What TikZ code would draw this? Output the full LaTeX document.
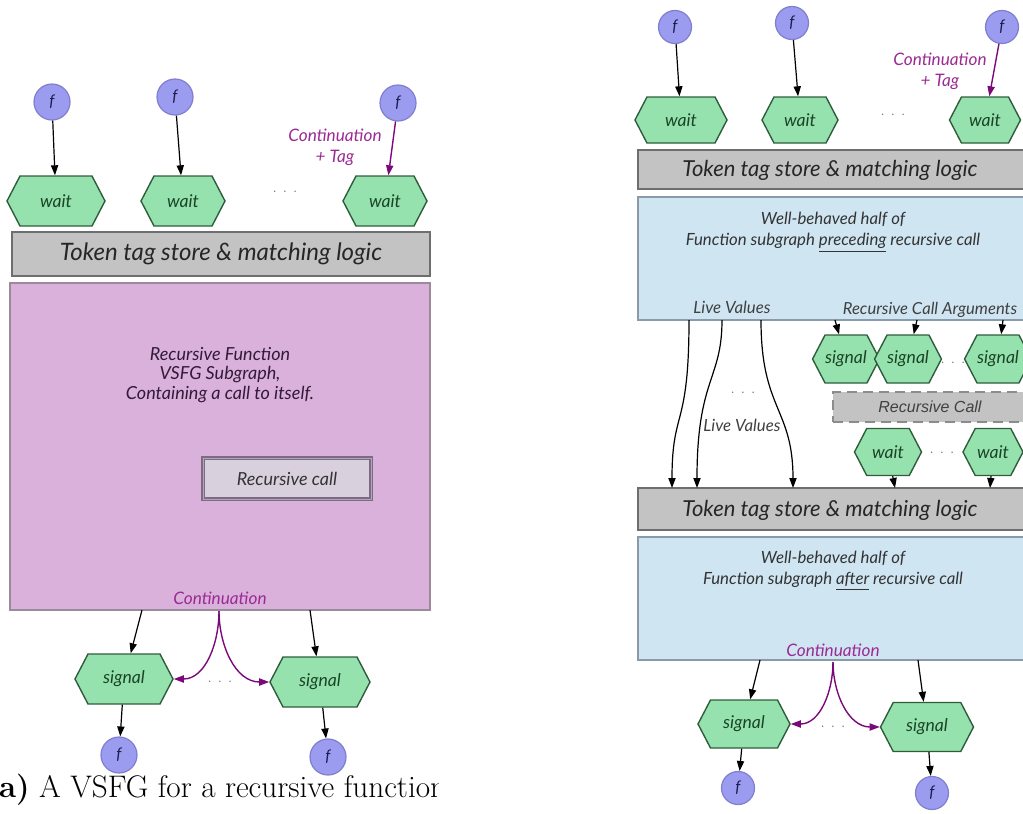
\documentclass[tikz,border=0pt]{standalone}
\usepackage{fontspec}
\newfontfamily\diafont{Lato}
\newfontfamily\arialfont{Liberation Sans}
\usetikzlibrary{arrows.meta,positioning,calc,shapes.symbols}
\definecolor{rvfill}{HTML}{9B9BF0}
\definecolor{rvline}{HTML}{7F7FD0}
\definecolor{rvtext}{HTML}{1C1C50}
\definecolor{hxfill}{HTML}{96E2AE}
\definecolor{hxline}{HTML}{2F5D3C}
\definecolor{hxtext}{HTML}{1A4426}
\definecolor{fnfill}{HTML}{D9B1DA}
\definecolor{fnline}{HTML}{9A8A9A}
\definecolor{fntext}{HTML}{321A38}
\definecolor{tsfill}{HTML}{C3C3C3}
\definecolor{tsline}{HTML}{6E6E6E}
\definecolor{wbfill}{HTML}{CFE5F2}
\definecolor{wbline}{HTML}{8A9AA8}
\definecolor{rcfill}{HTML}{D9D0DD}
\definecolor{rcline}{HTML}{7D6A85}
\definecolor{ctpurple}{HTML}{7A0A7A}
\definecolor{cttext}{HTML}{9B2A94}

\begin{document}
\begin{tikzpicture}[
  x=0.5pt, y=-0.5pt,
  fnode/.style={circle, draw=rvline, fill=rvfill, line width=0.6pt,
                minimum size=18pt, inner sep=0pt,
                font=\diafont\itshape\fontsize{8}{9}\selectfont, text=rvtext},
  hexbox/.style={signal, signal to=east and west, signal pointer angle=125,
                 draw=hxline, fill=hxfill, line width=0.7pt, inner sep=0pt,
                 minimum height=25pt,
                 font=\diafont\itshape\fontsize{8.8}{10}\selectfont, text=hxtext},
  tagbar/.style={draw=tsline, fill=tsfill, line width=0.7pt, inner sep=0pt,
                 font=\diafont\itshape\fontsize{12}{14}\selectfont, text=black!85},
  fnbox/.style={draw=fnline, fill=fnfill, line width=0.6pt},
  wbbox/.style={draw=wbline, fill=wbfill, line width=0.6pt},
  body/.style={align=center, inner sep=0pt, text=fntext,
               font=\diafont\itshape\fontsize{9}{9.75}\selectfont},
  rcall/.style={draw=rcline, double=rcline!60, double distance=0.5pt,
                line width=0.8pt, fill=rcfill, inner sep=0pt,
                minimum width=84pt, minimum height=20.5pt,
                font=\diafont\itshape\fontsize{9}{10}\selectfont, text=black!80},
  rcdash/.style={draw=black!45, dashed, dash pattern=on 5pt off 3pt,
                 line width=0.8pt, fill=tsfill, inner sep=0pt},
  cont/.style={align=center, inner sep=0pt, text=cttext,
               font=\diafont\itshape\fontsize{8.6}{10.5}\selectfont},
  lbl/.style={inner sep=0pt, text=black!75,
              font=\diafont\itshape\fontsize{8.4}{9}\selectfont},
  dots/.style={inner sep=0pt, text=black!60, font=\fontsize{6}{7}\selectfont},
  arr/.style={-{Triangle[length=5pt,width=3.6pt]}, line width=0.6pt, black},
  parr/.style={-{Triangle[length=5pt,width=3.6pt]}, line width=0.7pt, ctpurple},
]
\useasboundingbox (0,0) rectangle (1023,814);

%% ---- left: recursive function as one VSFG ----
\node[fnode] (fL1) at (52,102) {f};
\node[fnode] (fL2) at (175,97) {f};
\node[fnode] (fL3) at (398,103) {f};

\node[hexbox, minimum width=49pt] (wL1) at (56,201) {wait};
\node[hexbox, minimum width=42pt] (wL2) at (183,201) {wait};
\node[hexbox, minimum width=42pt] (wL3) at (385,201) {wait};
\node[dots] (dL1) at (285,192) {.\hspace{3pt}.\hspace{3pt}.};
\node[cont] (ctL) at (335,147) {Continuation\\+ Tag};

\draw[arr]  (fL1) -- (wL1);
\draw[arr]  (fL2) -- (wL2);
\draw[parr] (fL3) -- (wL3);

\node[tagbar, minimum width=209pt, minimum height=22pt] (tsL) at (221,254)
  {Token tag store \& matching logic};

\node[fnbox, minimum width=210pt, minimum height=163.5pt] (fnL) at (220,446.5) {};
\node[body] (fnLtxt) at (220,375)
  {Recursive Function\\VSFG Subgraph,\\Containing a call to itself.};
\node[rcall] (rcL) at (287,478.5) {Recursive call};
\node[cont] (coL) at (220,598) {Continuation};

\node[hexbox, minimum width=49pt] (sL1) at (124,679) {signal};
\node[hexbox, minimum width=50pt] (sL2) at (320,682) {signal};
\node[dots] (dL2) at (220,682) {.\hspace{3pt}.\hspace{3pt}.};
\node[fnode] (fL4) at (119,755) {f};
\node[fnode] (fL5) at (328,757) {f};

\coordinate (oL1) at (142,610);
\coordinate (oL2) at (310,610);
\coordinate (cL)  at (219,611);
\draw[arr]  (oL1) -- (sL1);
\draw[arr]  (oL2) -- (sL2);
\draw[parr] (cL) to[out=-90,in=0]   (sL1.east);
\draw[parr] (cL) to[out=-90,in=180] (sL2.west);
\draw[arr]  (sL1) -- (fL4);
\draw[arr]  (sL2) -- (fL5);

\begin{scope}
  \clip (-20,764) rectangle (438,814);
  \node[anchor=base west, inner sep=0pt, font=\fontsize{15.6}{17}\selectfont] (capL)
    at (-15,797) {\textbf{(a)} A VSFG for a recursive function};
\end{scope}

%% ---- right: split at the recursive call ----
\begin{scope}[fnode/.append style={minimum size=16.5pt}]
\node[fnode] (fR1) at (675,27) {f};
\node[fnode] (fR2) at (792,23) {f};
\node[fnode] (fR3) at (1002,27) {f};
\node[fnode] (fR4) at (738,788) {f};
\node[fnode] (fR5) at (932,793) {f};
\end{scope}

\node[hexbox, minimum width=46pt, minimum height=23pt] (wR1) at (681,120) {wait};
\node[hexbox, minimum width=38pt, minimum height=23pt] (wR2) at (800,120) {wait};
\node[hexbox, minimum width=35.5pt, minimum height=23pt] (wR3) at (985,120) {wait};
\node[dots] (dR1) at (893,115) {.\hspace{3pt}.\hspace{3pt}.};
\node[cont] (ctR) at (940,71) {Continuation\\+ Tag};

\draw[arr]  (fR1) -- (wR1);
\draw[arr]  (fR2) -- (wR2);
\draw[parr] (fR3) -- (wR3);

\node[tagbar, minimum width=196pt, minimum height=19.5pt] (tsR1) at (834,169.5) {};
\node[tagbar, font=\diafont\itshape\fontsize{11}{13}\selectfont, draw=none, fill=none]
  (tsR1txt) at (830,170) {Token tag store \& matching logic};

\node[wbbox, minimum width=196pt, minimum height=61.5pt] (wbR1) at (834,258.5) {};
\node[body, text=black!80, font=\diafont\itshape\fontsize{8.4}{10.5}\selectfont]
  (wbR1txt) at (833,232)
  {Well-behaved half of\\Function subgraph \underline{preceding} recursive call};
\node[lbl] (lvR1) at (732,307) {Live Values};
\node[lbl, font=\diafont\itshape\fontsize{8.3}{9}\selectfont] (rcaR) at (930,310)
  {Recursive Call Arguments};

\node[hexbox, minimum width=24pt, minimum height=24pt] (sR1) at (846,359) {signal};
\node[hexbox, minimum width=25pt, minimum height=24pt] (sR2) at (908,359) {signal};
\node[hexbox, minimum width=26pt, minimum height=24pt] (sR3) at (998,359) {signal};
\node[dots] (dR2) at (953,363) {.\hspace{3pt}.\hspace{3pt}.};

\coordinate (aR1) at (835,320);
\coordinate (aR2) at (917,320);
\coordinate (aR3) at (1003,320);
\draw[arr] (aR1) -- (sR1);
\draw[arr] (aR2) -- (sR2);
\draw[arr] (aR3) -- (sR3);

\node[rcdash, minimum width=98.5pt, minimum height=15pt] (rcR) at (931.5,407) {};
\node[inner sep=0pt, text=black!75, font=\arialfont\itshape\fontsize{8}{9}\selectfont]
  (rcRtxt) at (930,407) {Recursive Call};

\node[hexbox, minimum width=33.5pt, minimum height=23.5pt] (wR4) at (888,452) {wait};
\node[hexbox, minimum width=30pt, minimum height=23.5pt] (wR5) at (993,452) {wait};
\node[dots] (dR3) at (942,453) {.\hspace{3pt}.\hspace{3pt}.};

\node[tagbar, minimum width=196pt, minimum height=21pt] (tsR2) at (834,509) {};
\node[tagbar, font=\diafont\itshape\fontsize{11}{13}\selectfont, draw=none, fill=none]
  (tsR2txt) at (830,510) {Token tag store \& matching logic};

\coordinate (bR1) at (895,488);
\coordinate (bR2) at (990,488);
\draw[arr] (wR4) -- (bR1);
\draw[arr] (wR5) -- (bR2);

% live values around the recursive call
\coordinate (lvs1) at (689,320);  \coordinate (lve1) at (672,488);
\coordinate (lvs2) at (722,320);  \coordinate (lve2) at (697,488);
\coordinate (lvs3) at (761,320);  \coordinate (lve3) at (793,488);
\draw[arr] (lvs1) .. controls +(0,110) and +(0,-80) .. (lve1);
\draw[arr] (lvs2) .. controls +(0,60) and +(0,-110) .. (lve2);
\draw[arr] (lvs3) .. controls +(0,90) and +(0,-80) .. (lve3);
\node[dots] (dR4) at (743,393) {.\hspace{3pt}.\hspace{3pt}.};
\node[lbl] (lvR2) at (742,425) {Live Values};

\node[wbbox, minimum width=196pt, minimum height=61.5pt] (wbR2) at (834,598.5) {};
\node[body, text=black!80, font=\diafont\itshape\fontsize{8.4}{10.5}\selectfont]
  (wbR2txt) at (833,571)
  {Well-behaved half of\\Function subgraph \underline{after} recursive call};
\node[cont] (coR) at (833,650) {Continuation};

\node[hexbox, minimum width=46pt, minimum height=24pt] (sgR1) at (744,724) {signal};
\node[hexbox, minimum width=46.5pt, minimum height=24.5pt] (sgR2) at (927,727) {signal};
\node[dots] (dR5) at (833,727) {.\hspace{3pt}.\hspace{3pt}.};

\coordinate (oR1) at (760,660);
\coordinate (oR2) at (918,660);
\coordinate (cR)  at (833,662);
\draw[arr]  (oR1) -- (sgR1);
\draw[arr]  (oR2) -- (sgR2);
\draw[parr] (cR) to[out=-90,in=0]   (sgR1.east);
\draw[parr] (cR) to[out=-90,in=180] (sgR2.west);
\draw[arr]  (sgR1) -- (fR4);
\draw[arr]  (sgR2) -- (fR5);

\end{tikzpicture}
\end{document}
